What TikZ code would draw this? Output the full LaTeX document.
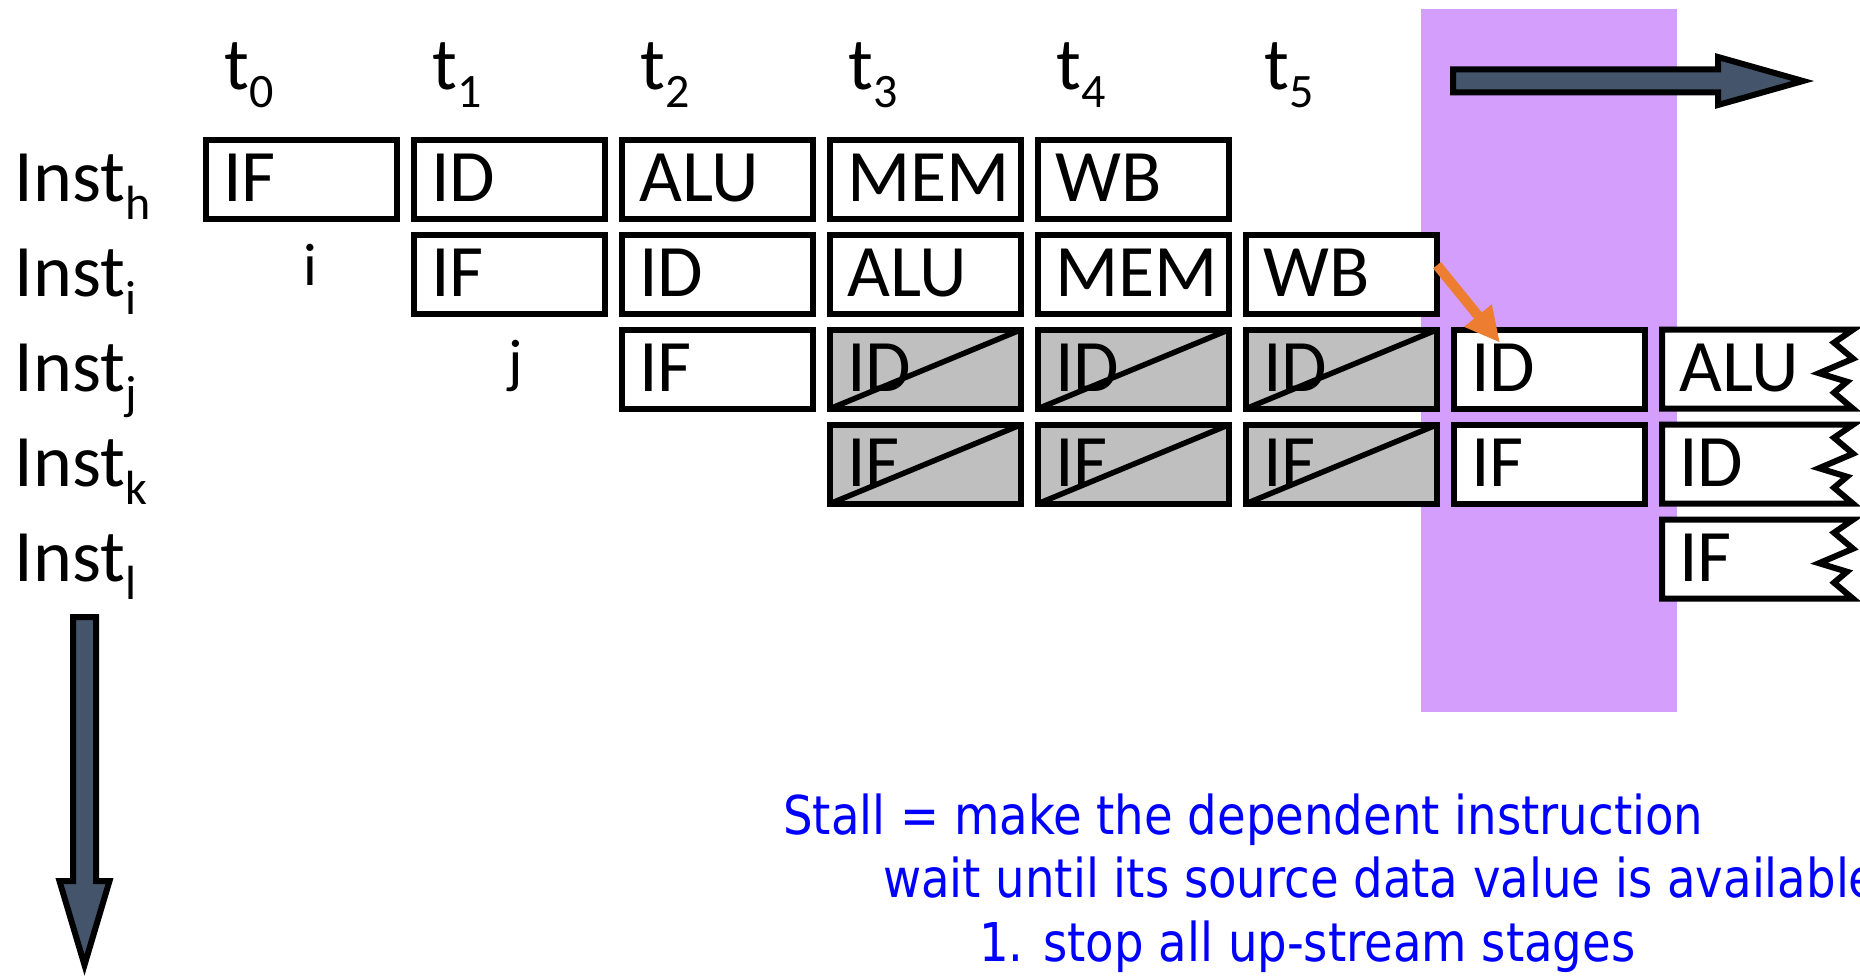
\documentclass[tikz,border=0pt]{standalone}
\usepackage{fontspec}
\setmainfont{Carlito}
\newfontfamily\notefont{DejaVu Sans Condensed}
\usetikzlibrary{arrows.meta,calc}
\definecolor{purp}{RGB}{212,159,252}
\definecolor{slate}{RGB}{68,84,106}
\definecolor{stallgray}{RGB}{191,191,191}
\definecolor{orng}{RGB}{237,125,49}
\definecolor{noteblue}{RGB}{0,0,255}
\newcommand\subs[1]{\raisebox{-18pt}{\fontsize{48pt}{48pt}\selectfont #1}}
\newcommand\mkstage[5]{%
  \node[#5] (#1) at ({301.5+208*#2},{179.2+95*#3}) {};
  \node[stagetext] (#1-t) at ($(#1.south west)+(17,-17)$) {#4};
}
\newcommand\mkstall[4]{%
  \mkstage{#1}{#2}{#3}{#4}{stalled}
  \draw[slash] (#1.south west) -- (#1.north east);
}
\newcommand\mkjag[4]{%
  \node[ghost] (#1) at ({301.5+208*#2},{179.2+95*#3}) {};
  \draw[jagline] (#1.north west) -- (#1.north east)
    -- ($(#1.north east)+(-19,13)$) -- ($(#1.north east)+(0,29)$)
    -- ($(#1.north east)+(-34,43.5)$) -- ($(#1.north east)+(-6,52)$)
    -- ($(#1.north east)+(-19,63)$) -- (#1.south east)
    -- (#1.south west) -- cycle;
  \node[stagetext] (#1-t) at ($(#1.south west)+(17,-17)$) {#4};
}
\begin{document}
\begin{tikzpicture}[x=1pt,y=-1pt,
  stagebox/.style={rectangle,draw=black,line width=6pt,fill=white,
    minimum width=191pt,minimum height=79pt,inner sep=0pt,outer sep=0pt},
  stalled/.style={stagebox,fill=stallgray},
  ghost/.style={stagebox,draw=none,fill=none},
  jagline/.style={draw=black,fill=white,line width=6pt,line join=miter},
  slash/.style={draw=black,line width=5.5pt},
  stagetext/.style={anchor=base west,inner sep=0pt,font=\fontsize{74pt}{74pt}\selectfont},
  smalltext/.style={anchor=base west,inner sep=0pt,font=\fontsize{60pt}{60pt}\selectfont},
  note/.style={anchor=base west,inner sep=0pt,text=noteblue,font=\notefont\fontsize{53.5pt}{53.5pt}\selectfont},
  bigarrow/.style={fill=slate,draw=black,line width=6pt,line join=miter},
  depend/.style={draw=orng,line width=10pt,-{Triangle[length=35pt,width=33pt]}}
]
\useasboundingbox (0,0) rectangle (1860,976);
% highlighted cycle
\fill[purp] (1421,9) rectangle (1677,712);
% time labels
\foreach \c in {0,...,5}{
  \node[stagetext] (t\c) at ({224.5+208*\c},90) {t\subs{\c}};
}
% instruction labels
\node[stagetext] (Lh) at (14.5,201.7) {Inst\subs{h}};
\node[stagetext] (Li) at (14.5,296.7) {Inst\subs{i}};
\node[stagetext] (Lj) at (14.5,391.7) {Inst\subs{j}};
\node[stagetext] (Lk) at (14.5,486.7) {Inst\subs{k}};
\node[stagetext] (Ll) at (14.5,581.7) {Inst\subs{l}};
\node[smalltext] (si) at (303,286) {i};
\node[smalltext] (sj) at (508,381) {j};
% row h
\mkstage{h0}{0}{0}{IF}{stagebox}
\mkstage{h1}{1}{0}{ID}{stagebox}
\mkstage{h2}{2}{0}{ALU}{stagebox}
\mkstage{h3}{3}{0}{MEM}{stagebox}
\mkstage{h4}{4}{0}{WB}{stagebox}
% row i
\mkstage{i1}{1}{1}{IF}{stagebox}
\mkstage{i2}{2}{1}{ID}{stagebox}
\mkstage{i3}{3}{1}{ALU}{stagebox}
\mkstage{i4}{4}{1}{MEM}{stagebox}
\mkstage{i5}{5}{1}{WB}{stagebox}
% row j
\mkstage{j2}{2}{2}{IF}{stagebox}
\mkstall{j3}{3}{2}{ID}
\mkstall{j4}{4}{2}{ID}
\mkstall{j5}{5}{2}{ID}
\mkstage{j6}{6}{2}{ID}{stagebox}
\mkjag{j7}{7}{2}{ALU}
% row k
\mkstall{k3}{3}{3}{IF}
\mkstall{k4}{4}{3}{IF}
\mkstall{k5}{5}{3}{IF}
\mkstage{k6}{6}{3}{IF}{stagebox}
\mkjag{k7}{7}{3}{ID}
% row l
\mkjag{l7}{7}{4}{IF}
% dependence
\coordinate (dsrc) at ($(i5.east)+(0,-9)$);
\coordinate (ddst) at ($(j6.north west)+(46,13)$);
\draw[depend] (dsrc) -- (ddst);
% time and program order arrows
\draw[bigarrow] (1453,69.5) -- (1718,69.5) -- (1718,57) -- (1803,81)
  -- (1718,105) -- (1718,92.5) -- (1453,92.5) -- cycle;
\draw[bigarrow] (73,617) -- (96,617) -- (96,881) -- (109.5,881)
  -- (84.5,965) -- (59.5,881) -- (73,881) -- cycle;
% note
\node[note] (n1) at (783,834) {\scalebox{0.968}[1]{Stall = make the dependent instruction}};
\node[note] (n2) at (883,897) {\scalebox{0.968}[1]{wait until its source data value is available}};
\node[note] (n3) at (979,961) {\scalebox{0.968}[1]{1. stop all up-stream stages}};
\end{tikzpicture}
\end{document}
